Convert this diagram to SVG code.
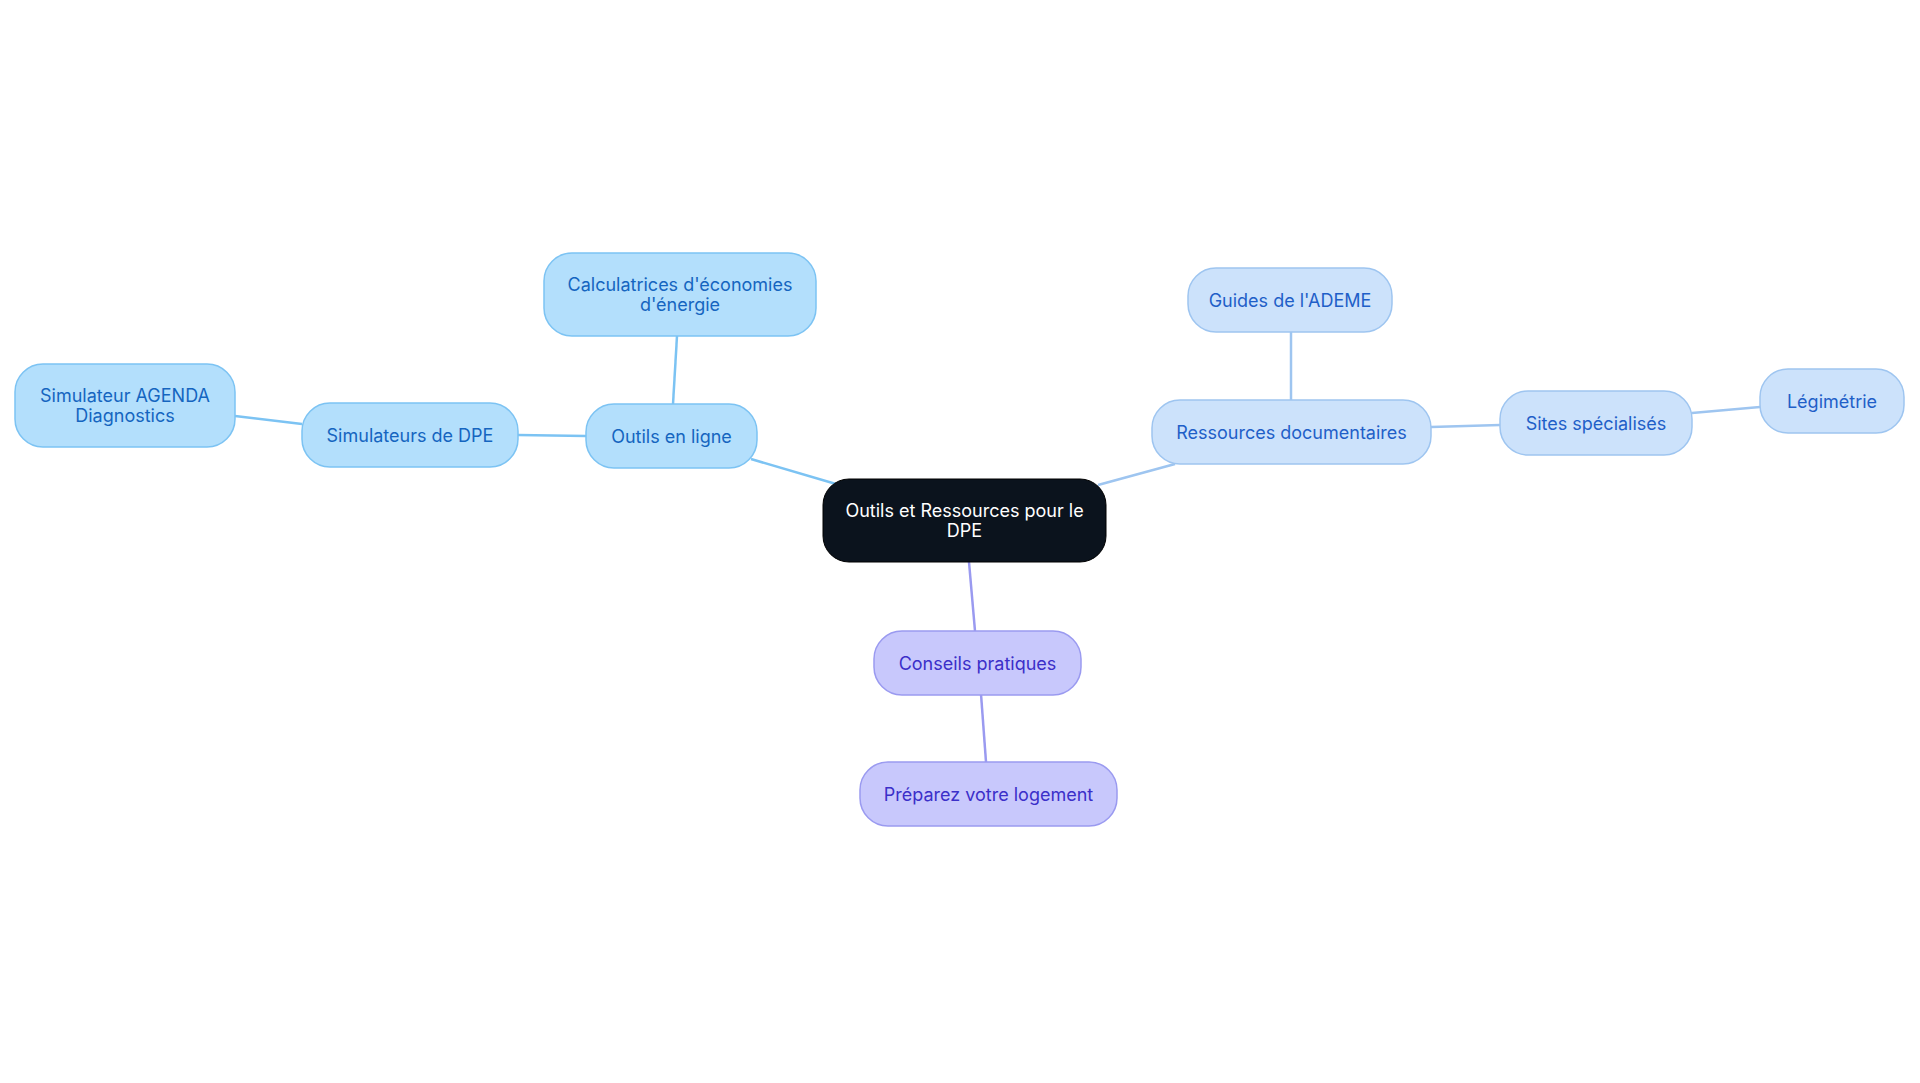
<svg xmlns="http://www.w3.org/2000/svg" width="1920" height="1083" viewBox="0 0 1920 1083">
<style>
text{font-family:Inter,"Noto Sans",sans-serif;font-size:18px;text-anchor:middle;dominant-baseline:central}
.b rect{fill:#b3dffc;stroke:#7cc3f3;stroke-width:1.5}.b text{fill:#1565c0}
.r rect{fill:#cce2fb;stroke:#9ec5f0;stroke-width:1.5}.r text{fill:#1f5fc8}
.p rect{fill:#c8c8fc;stroke:#9a9af0;stroke-width:1.5}.p text{fill:#3b2fc9}
.e line{stroke-width:2.5}
</style>
<rect width="1920" height="1083" fill="#fff"/>
<g id="connectors" class="e">
<line x1="836" y1="484" x2="751" y2="459" stroke="#7cc3f3"/>
<line x1="673" y1="404" x2="677" y2="336" stroke="#7cc3f3"/>
<line x1="586" y1="436" x2="518" y2="435" stroke="#7cc3f3"/>
<line x1="302" y1="424" x2="235" y2="416" stroke="#7cc3f3"/>
<line x1="1098" y1="485" x2="1175" y2="464" stroke="#9ec5f0"/>
<line x1="1291" y1="400" x2="1291" y2="332" stroke="#9ec5f0"/>
<line x1="1431" y1="427" x2="1500" y2="425" stroke="#9ec5f0"/>
<line x1="1692" y1="413" x2="1760" y2="407" stroke="#9ec5f0"/>
<line x1="969" y1="562" x2="975" y2="631" stroke="#9a9af0"/>
<line x1="981" y1="694" x2="986" y2="762" stroke="#9a9af0"/>
</g>
<g id="center"><rect x="823" y="479" width="283" height="83" rx="26" fill="#0b131d" stroke="#000"/><text x="964.5" y="510" fill="#fff">Outils et Ressources pour le</text><text x="964.5" y="530" fill="#fff">DPE</text></g>
<g id="outils" class="b"><rect x="586" y="404" width="171" height="64" rx="28"/><text x="671.5" y="436">Outils en ligne</text></g>
<g id="calc" class="b"><rect x="544" y="253" width="272" height="83" rx="28"/><text x="680" y="284">Calculatrices d'économies</text><text x="680" y="304">d'énergie</text></g>
<g id="simdpe" class="b"><rect x="302" y="403" width="216" height="64" rx="28"/><text x="410" y="435">Simulateurs de DPE</text></g>
<g id="agenda" class="b"><rect x="15" y="364" width="220" height="83" rx="28"/><text x="125" y="395">Simulateur AGENDA</text><text x="125" y="415">Diagnostics</text></g>
<g id="ressources" class="r"><rect x="1152" y="400" width="279" height="64" rx="28"/><text x="1291.5" y="432">Ressources documentaires</text></g>
<g id="guides" class="r"><rect x="1188" y="268" width="204" height="64" rx="28"/><text x="1290" y="300">Guides de l'ADEME</text></g>
<g id="sites" class="r"><rect x="1500" y="391" width="192" height="64" rx="28"/><text x="1596" y="423">Sites spécialisés</text></g>
<g id="legimetrie" class="r"><rect x="1760" y="369" width="144" height="64" rx="28"/><text x="1832" y="401">Légimétrie</text></g>
<g id="conseils" class="p"><rect x="874" y="631" width="207" height="64" rx="28"/><text x="977.5" y="663">Conseils pratiques</text></g>
<g id="preparez" class="p"><rect x="860" y="762" width="257" height="64" rx="28"/><text x="988.5" y="794">Préparez votre logement</text></g>
</svg>
